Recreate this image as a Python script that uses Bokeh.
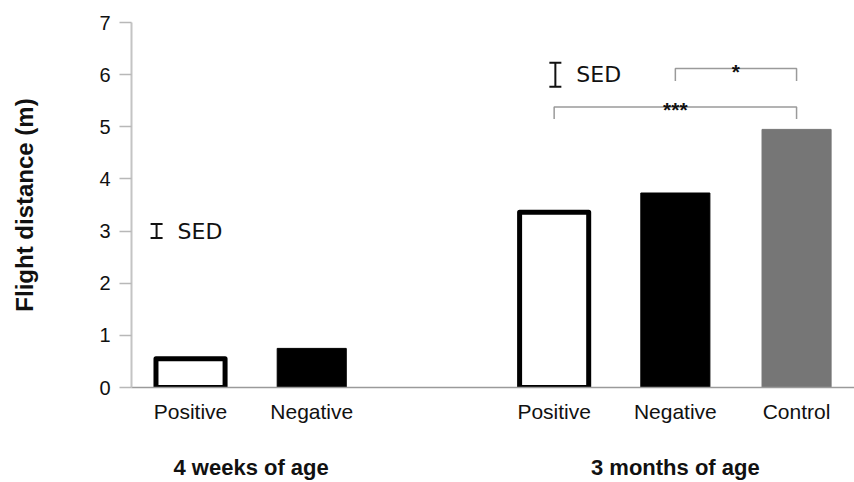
from bokeh.plotting import figure
from bokeh.models import ColumnDataSource, FixedTicker, Range1d, Whisker, TeeHead, LinearAxis
from bokeh.core.properties import value
from bokeh.embed import file_html
from bokeh.resources import INLINE

# ---- data ----
categories = ["Positive", "Negative", "Positive", "Negative", "Control"]
positions = [0, 1, 3, 4, 5]
flight_distance = [0.55, 0.75, 3.36, 3.73, 4.95]
groups = ["4 weeks of age", "3 months of age"]
group_centers = [0.5, 4.0]
y_ticks = [0, 1, 2, 3, 4, 5, 6, 7]

sed_x = [-0.28, 3.01]
sed_center = [3.0, 6.0]
sed_value = [0.27, 0.46]

sig_labels = ["*", "***"]
sig_start = [4, 3]
sig_end = [5, 5]
sig_height = [6.12, 5.38]
sig_drop = [0.24, 0.23]

# ---- styles ----
FONT = "Liberation Sans"
style = {
    "Positive": dict(fill="white", line="black", lw=5),
    "Negative": dict(fill="black", line="black", lw=1),
    "Control": dict(fill="#767676", line="#767676", lw=1),
}

src = ColumnDataSource(dict(
    x=positions, top=flight_distance,
    fill=[style[c]["fill"] for c in categories],
    line=[style[c]["line"] for c in categories],
    lw=[style[c]["lw"] for c in categories],
))

p = figure(width=854, height=482, output_backend="svg", toolbar_location=None,
           x_range=Range1d(-0.487, 5.478), y_range=Range1d(0, 7),
           min_border_left=131, min_border_right=0, min_border_top=22,
           min_border_bottom=94, outline_line_color=None)
p.grid.visible = False
p.background_fill_color = "white"

p.vbar(x="x", top="top", bottom=0, width=0.57, source=src,
       fill_color="fill", line_color="line", line_width="lw", line_join="round")

# x axis (categories)
xa = p.xaxis[0]
xa.ticker = FixedTicker(ticks=positions)
xa.major_label_overrides = {pos: c for pos, c in zip(positions, categories)}
xa.major_tick_line_color = None
xa.minor_tick_line_color = None
xa.axis_line_color = "#9a9a9a"
xa.axis_line_width = 1.5
xa.major_label_standoff = 6
xa.major_label_text_font = FONT
xa.major_label_text_font_size = "21px"
xa.major_label_text_color = "#111111"

# second x axis (age groups)
ga = LinearAxis(ticker=FixedTicker(ticks=group_centers),
                major_label_overrides={c: g for c, g in zip(group_centers, groups)},
                axis_line_color=None, major_tick_line_color=None,
                minor_tick_line_color=None, major_label_standoff=23,
                major_label_text_font=FONT, major_label_text_font_style="bold",
                major_label_text_font_size="22px", major_label_text_color="#111111")
p.add_layout(ga, "below")

# y axis
ya = p.yaxis[0]
ya.ticker = FixedTicker(ticks=y_ticks)
ya.minor_tick_line_color = None
ya.major_tick_in = 0
ya.major_tick_out = 12
ya.major_tick_line_color = "#b8b8b8"
ya.major_tick_line_width = 1.5
ya.axis_line_color = "#c4c4c4"
ya.axis_line_width = 2
ya.major_label_standoff = 9
ya.major_label_text_font = FONT
ya.major_label_text_font_size = "20px"
ya.major_label_text_color = "#111111"
ya.axis_label = "Flight distance (m)"
ya.axis_label_text_font = FONT
ya.axis_label_text_font_style = "bold"
ya.axis_label_text_font_size = "24px"
ya.axis_label_text_color = "#111111"
ya.axis_label_standoff = 58

# SED bars
sed_src = ColumnDataSource(dict(
    x=sed_x,
    lower=[c - v / 2 for c, v in zip(sed_center, sed_value)],
    upper=[c + v / 2 for c, v in zip(sed_center, sed_value)],
    y=sed_center,
    label=["SED"] * len(sed_x),
))
p.add_layout(Whisker(source=sed_src, base="x", upper="upper", lower="lower",
                     dimension="height", line_color="#111111", line_width=2,
                     upper_head=TeeHead(size=12, line_color="#111111", line_width=2),
                     lower_head=TeeHead(size=12, line_color="#111111", line_width=2)))
p.text(x="x", y="y", text="label", source=sed_src, x_offset=21,
       text_align="left", text_baseline="middle", text_font=value("DejaVu Sans"),
       text_font_size="22px", text_color="#111111")

# significance brackets
br_xs, br_ys = [], []
for s, e, h, d in zip(sig_start, sig_end, sig_height, sig_drop):
    br_xs.append([s, s, e, e])
    br_ys.append([h - d, h, h, h - d])
p.multi_line(xs=br_xs, ys=br_ys, line_color="#9a9a9a", line_width=1.5)
p.text(x=[(s + e) / 2 for s, e in zip(sig_start, sig_end)], y=sig_height,
       text=sig_labels, y_offset=3, text_align="center", text_baseline="alphabetic",
       text_font=value(FONT), text_font_style="bold", text_font_size="21px",
       text_color="#111111")

open("out.html", "w").write(file_html(p, INLINE))
